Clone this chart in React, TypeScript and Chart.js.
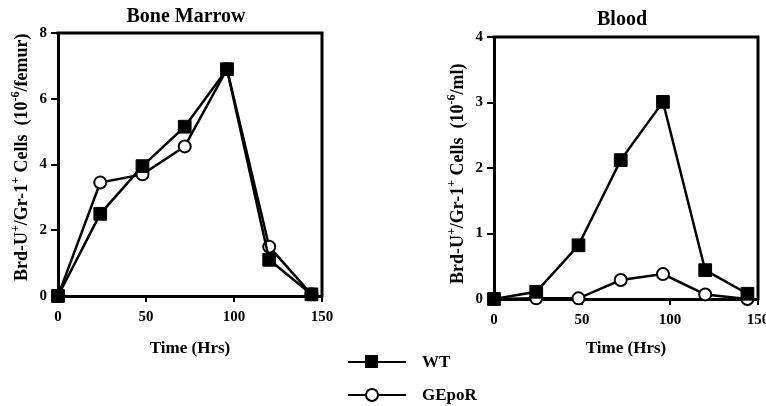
import React, { useEffect, useRef } from 'react';
import { Chart, registerables } from 'chart.js';

Chart.register(...registerables);

// ---- data ----
const hours = [0, 24, 48, 72, 96, 120, 144];
const boneWT = [0, 2.5, 3.95, 5.15, 6.9, 1.1, 0.05];
const boneGEpoR = [0, 3.45, 3.7, 4.55, 6.9, 1.5, 0.05];
const bloodWT = [0, 0.11, 0.82, 2.12, 3.01, 0.44, 0.08];
const bloodGEpoR = [0, 0.01, 0.01, 0.29, 0.38, 0.07, 0.0];

const xTicks = [0, 50, 100, 150];
const boneYTicks = [0, 2, 4, 6, 8];
const bloodYTicks = [0, 1, 2, 3, 4];

const seriesNames = ['WT', 'GEpoR'];
const panelTitles = ['Bone Marrow', 'Blood'];
const xAxisTitle = 'Time (Hrs)';
// [text, isSuperscript]
const boneYTitle: [string, boolean][] = [
  ['Brd-U', false], ['+', true], ['/Gr-1', false], ['+', true],
  [' Cells  (10', false], ['-6', true], ['/femur)', false],
];
const bloodYTitle: [string, boolean][] = [
  ['Brd-U', false], ['+', true], ['/Gr-1', false], ['+', true],
  [' Cells  (10', false], ['-6', true], ['/ml)', false],
];

const FONT = '"Liberation Serif", "Times New Roman", Times, serif';

const annotPlugin = {
  id: 'annot',
  beforeDatasetsDraw(chart: any, _args: any, opts: any) {
    const { ctx, chartArea: a } = chart;
    ctx.save();
    // top/right frame
    ctx.strokeStyle = '#000';
    ctx.lineWidth = 3;
    ctx.lineCap = 'square';
    ctx.beginPath();
    ctx.moveTo(a.left, a.top);
    ctx.lineTo(a.right, a.top);
    ctx.lineTo(a.right, a.bottom);
    ctx.stroke();
    // panel title
    ctx.fillStyle = '#000';
    ctx.font = `bold ${opts.titleSize}px ${FONT}`;
    ctx.textAlign = 'center';
    ctx.textBaseline = 'middle';
    ctx.fillText(opts.title, (a.left + a.right) / 2 + opts.titleDx, a.top + opts.titleDy);
    // rotated y title with superscripts
    const size = opts.yTitleSize;
    ctx.translate(a.left + opts.yTitleDx, a.bottom + opts.yTitleDy);
    ctx.rotate(-Math.PI / 2);
    ctx.textAlign = 'left';
    ctx.textBaseline = 'alphabetic';
    let x = 0;
    for (const [t, sup] of opts.yTitle as [string, boolean][]) {
      ctx.font = `bold ${sup ? Math.round(size * 0.68) : size}px ${FONT}`;
      ctx.fillText(t, x, sup ? -size * 0.42 : 0);
      x += ctx.measureText(t).width;
    }
    ctx.restore();
  },
};

function makeConfig(
  wt: number[], ge: number[], yTicks: number[], yMax: number,
  title: string, yTitle: [string, boolean][],
  dims: { yW: number; xH: number; padR: number; padT: number },
  titleDy: number,
) {
  const tickFont = { family: FONT, size: 15, weight: 'bold' as const };
  return {
    type: 'line' as const,
    data: {
      datasets: [
        {
          label: seriesNames[0],
          data: hours.map((h, i) => ({ x: h, y: wt[i] })),
          borderColor: '#000',
          borderWidth: 2.5,
          backgroundColor: '#000',
          pointStyle: 'rect',
          pointRadius: 9,
          pointHoverRadius: 9,
          pointBorderWidth: 1,
          pointBackgroundColor: '#000',
          pointBorderColor: '#000',
          tension: 0,
          clip: false as const,
        },
        {
          label: seriesNames[1],
          data: hours.map((h, i) => ({ x: h, y: ge[i] })),
          borderColor: '#000',
          borderWidth: 2.5,
          backgroundColor: '#fff',
          pointStyle: 'circle',
          pointRadius: 6,
          pointHoverRadius: 6,
          pointBorderWidth: 2,
          pointBackgroundColor: '#fff',
          pointBorderColor: '#000',
          tension: 0,
          clip: false as const,
        },
      ],
    },
    options: {
      responsive: false,
      animation: false as const,
      devicePixelRatio: 1,
      events: [],
      layout: { padding: { left: 0, right: dims.padR, top: dims.padT, bottom: 0 } },
      plugins: {
        legend: { display: false },
        tooltip: { enabled: false },
        annot: {
          title, titleSize: 20, titleDx: -4, titleDy: titleDy,
          yTitle, yTitleSize: 18, yTitleDx: -31, yTitleDy: -15,
        },
      },
      scales: {
        x: {
          type: 'linear' as const,
          min: xTicks[0],
          max: xTicks[xTicks.length - 1],
          afterBuildTicks: (s: any) => { s.ticks = xTicks.map((v) => ({ value: v })); },
          afterFit: (s: any) => { s.height = dims.xH; },
          border: { color: '#000', width: 3 },
          grid: { drawOnChartArea: false, color: '#000', lineWidth: 2, tickLength: 6 },
          ticks: { color: '#000', font: tickFont, padding: 6, maxRotation: 0, autoSkip: false },
          title: {
            display: true, text: xAxisTitle, color: '#000',
            font: { family: FONT, size: 17, weight: 'bold' as const },
            padding: { top: 0, bottom: 21 },
          },
        },
        y: {
          type: 'linear' as const,
          min: 0,
          max: yMax,
          afterBuildTicks: (s: any) => { s.ticks = yTicks.map((v) => ({ value: v })); },
          afterFit: (s: any) => { s.width = dims.yW; },
          border: { color: '#000', width: 3 },
          grid: { drawOnChartArea: false, color: '#000', lineWidth: 2, tickLength: 7 },
          ticks: { color: '#000', font: tickFont, padding: 4, autoSkip: false },
        },
      },
    },
    plugins: [annotPlugin],
  };
}

export default function App() {
  const leftRef = useRef<HTMLCanvasElement>(null);
  const rightRef = useRef<HTMLCanvasElement>(null);

  useEffect(() => {
    const c1 = new Chart(
      leftRef.current!,
      makeConfig(boneWT, boneGEpoR, boneYTicks, 8, panelTitles[0], boneYTitle,
        { yW: 58, xH: 84, padR: 23, padT: 33 }, -16) as any,
    );
    const c2 = new Chart(
      rightRef.current!,
      makeConfig(bloodWT, bloodGEpoR, bloodYTicks, 4, panelTitles[1], bloodYTitle,
        { yW: 111, xH: 81, padR: 25, padT: 37 }, -17) as any,
    );
    return () => { c1.destroy(); c2.destroy(); };
  }, []);

  const legendText: React.CSSProperties = {
    position: 'absolute', left: 422, fontFamily: FONT, fontWeight: 'bold',
    fontSize: 17, lineHeight: '20px', color: '#000',
  };

  return (
    <div style={{ position: 'absolute', left: 0, top: 0, width: 766, height: 406, overflow: 'hidden', background: '#fff' }}>
      <canvas ref={leftRef} width={345} height={380} style={{ position: 'absolute', left: 0, top: 0 }} />
      <canvas ref={rightRef} width={400} height={380} style={{ position: 'absolute', left: 383, top: 0 }} />
      {/* legend */}
      <div style={{ position: 'absolute', left: 348, top: 361, width: 58, height: 2, background: '#000' }} />
      <div style={{ position: 'absolute', left: 365, top: 355, width: 13, height: 13, background: '#000' }} />
      <div style={{ ...legendText, top: 352 }}>{seriesNames[0]}</div>
      <div style={{ position: 'absolute', left: 348, top: 394, width: 58, height: 2, background: '#000' }} />
      <div style={{ position: 'absolute', left: 365, top: 388, width: 10, height: 10, borderRadius: '50%', border: '2px solid #000', background: '#fff' }} />
      <div style={{ ...legendText, top: 385 }}>{seriesNames[1]}</div>
    </div>
  );
}
